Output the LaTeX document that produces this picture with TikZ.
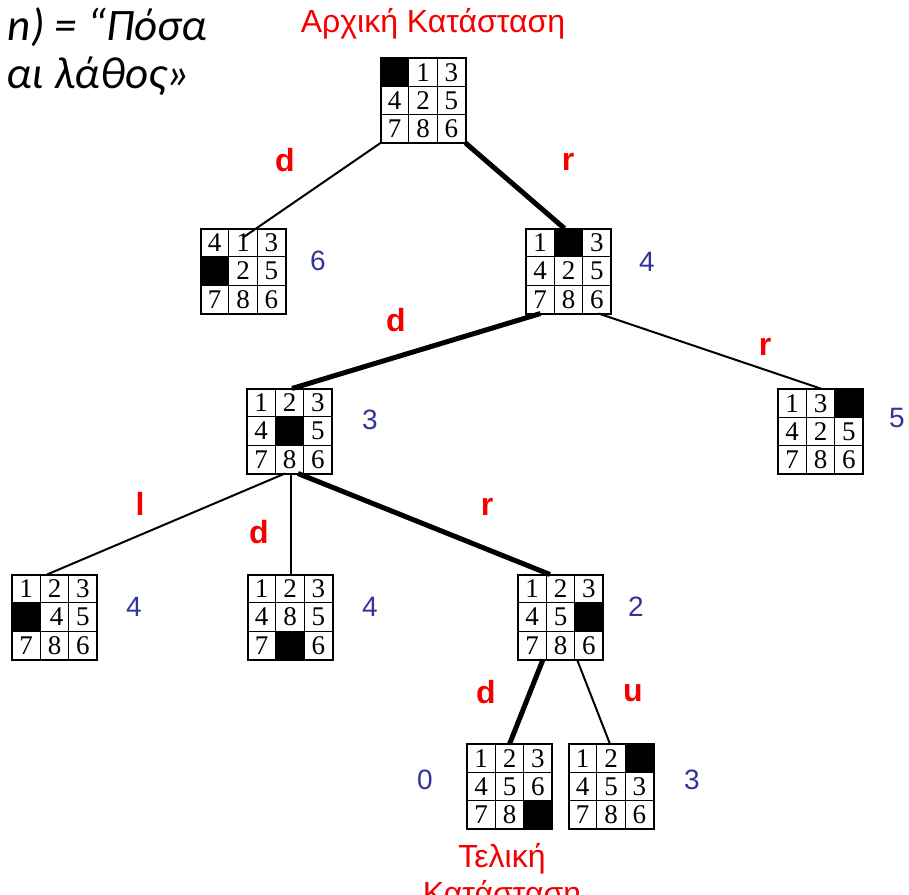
\documentclass[tikz,border=0pt]{standalone}
\usepackage{fontspec}
\setmainfont{Liberation Serif}
\newfontfamily\lsans{Liberation Sans}
\newfontfamily\carl{Carlito}
\usetikzlibrary{calc}
\definecolor{lblred}{RGB}{245,0,0}
\definecolor{numblue}{RGB}{51,51,153}
\tikzset{
  boardbox/.style={fill=white, minimum width=85pt, minimum height=85pt, inner sep=0pt, outer sep=0pt},
  boardline/.style={line width=2pt},
  gridline/.style={line width=1.3pt},
  tilenum/.style={inner sep=0pt, font=\fontsize{27}{30}\selectfont},
  movelbl/.style={text=lblred, inner sep=0pt, font=\lsans\bfseries\fontsize{32}{36}\selectfont},
  costlbl/.style={text=numblue, inner sep=0pt, font=\lsans\fontsize{28}{32}\selectfont},
  thinedge/.style={line width=2pt},
  thickedge/.style={line width=5pt},
  statetitle/.style={text=lblred, inner sep=0pt, font=\lsans\fontsize{32}{36}\selectfont},
  headtext/.style={inner sep=0pt, font=\carl\itshape\fontsize{45}{52}\selectfont},
}
\newcommand\puzzle[4]{%
  \node[boardbox] (#1) at (#2,#3) {};
  \foreach \v [count=\i from 0] in {#4} {%
    \pgfmathtruncatemacro\prow{\i/3}%
    \pgfmathtruncatemacro\pcol{\i-3*\prow}%
    \ifnum\v=0
      \fill ($(#1.north west)+(\pcol*28.333,\prow*28.333)$) rectangle ++(28.333,28.333);
    \else\ifnum\v>9
      \pgfmathtruncatemacro\pdig{\v-10}%
      \node[tilenum] (#1-\i) at ($(#1.north west)+(\pcol*28.333+16.2,\prow*28.333+14.2)$) {\pdig};
    \else
      \node[tilenum] (#1-\i) at ($(#1.north west)+(\pcol*28.333+14.2,\prow*28.333+14.2)$) {\v};
    \fi\fi
  }
  \draw[gridline] ($(#1.north west)+(28.333,0)$) -- ($(#1.south west)+(28.333,0)$)
                  ($(#1.north west)+(56.667,0)$) -- ($(#1.south west)+(56.667,0)$)
                  ($(#1.north west)+(0,28.333)$) -- ($(#1.north east)+(0,28.333)$)
                  ($(#1.north west)+(0,56.667)$) -- ($(#1.north east)+(0,56.667)$);
  \draw[boardline] (#1.north west) rectangle (#1.south east);
}
\begin{document}
\begin{tikzpicture}[x=1pt,y=-1pt]
\useasboundingbox (0,0) rectangle (909,894);
\clip (0,0) rectangle (909,894);

% header text (cut at the left edge, as in the reference)
\node[headtext, anchor=base east] (h1) at (207,40) {n) = “Πόσα};
\node[headtext, anchor=base east] (h2) at (190,88) {αι λάθος»};

% titles
\node[statetitle, anchor=base] (start) at (433,32) {Αρχική Κατάσταση};
\node[statetitle, anchor=base] (goal1) at (502,867) {Τελική};
\node[statetitle, anchor=base] (goal2) at (502,904) {Κατάσταση};

% boards
\puzzle{T}{423}{100.5}{0,1,3,4,2,5,7,8,6}
\puzzle{A}{243}{271}{4,1,3,0,2,5,7,8,6}
\puzzle{B}{568.5}{271}{1,0,3,4,2,5,7,8,6}
\puzzle{C}{289.5}{431}{1,2,3,4,0,5,7,8,6}
\puzzle{D}{820.5}{431.5}{1,3,0,4,2,5,7,8,6}
\puzzle{E}{54.5}{617}{1,2,3,0,14,5,7,8,6}
\puzzle{F}{290}{617}{1,2,3,4,8,5,7,0,6}
\puzzle{G}{560.5}{617}{1,2,3,4,5,0,7,8,6}
\puzzle{H}{509.5}{786.5}{1,2,3,4,5,6,7,8,0}
\puzzle{I}{611}{786.5}{1,2,0,4,5,3,7,8,6}

% connectors
\draw[thinedge]  (T.south west) -- ([yshift=-9pt]A.north);
\draw[thickedge] (T.south east) -- ([xshift=-4pt]B.north);
\draw[thickedge] ([xshift=-28pt]B.south) -- ([xshift=2.5pt]C.north);
\draw[thinedge]  ([xshift=30pt]B.south) -- ([xshift=1.5pt]D.north);
\draw[thinedge]  ([xshift=-4.5pt]C.south) -- ([xshift=-7.5pt]E.north);
\draw[thinedge]  ([xshift=1.5pt]C.south) -- ([xshift=1pt]F.north);
\draw[thickedge] ([xshift=8.5pt]C.south) -- ([xshift=-10.5pt]G.north);
\draw[thickedge] ([xshift=-17.5pt]G.south) -- (H.north);
\draw[thinedge]  ([xshift=16.5pt]G.south) -- ([xshift=-1pt]I.north);

% move labels
\node[movelbl] (mTA) at (285,160) {d};
\node[movelbl] (mTB) at (568,162) {r};
\node[movelbl] (mBC) at (396,320) {d};
\node[movelbl] (mBD) at (765,347) {r};
\node[movelbl] (mCE) at (140,504) {l};
\node[movelbl] (mCF) at (259,532) {d};
\node[movelbl] (mCG) at (487,507) {r};
\node[movelbl] (mGH) at (486,692) {d};
\node[movelbl] (mGI) at (633,693) {u};

% costs
\node[costlbl] (cA) at (318,261) {6};
\node[costlbl] (cB) at (647,262) {4};
\node[costlbl] (cC) at (370,420) {3};
\node[costlbl] (cD) at (897,418) {5};
\node[costlbl] (cE) at (134,607) {4};
\node[costlbl] (cF) at (370,607) {4};
\node[costlbl] (cG) at (636,607) {2};
\node[costlbl] (cH) at (425,780) {0};
\node[costlbl] (cI) at (692,780) {3};
\end{tikzpicture}
\end{document}
